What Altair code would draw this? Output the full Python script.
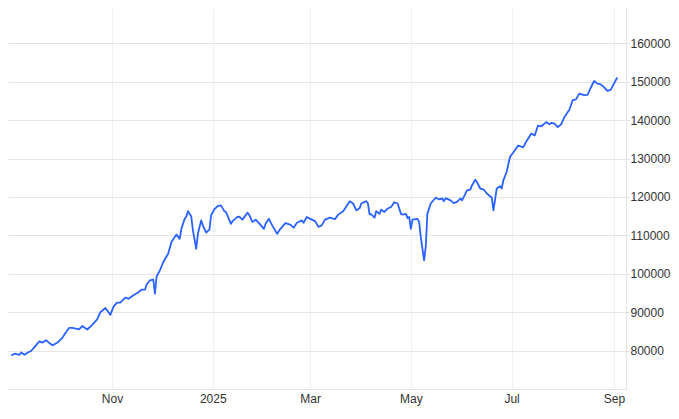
import altair as alt
import pandas as pd

dates = [
    "2024-09-01", "2024-09-03", "2024-09-06", "2024-09-07", "2024-09-09", "2024-09-11", "2024-09-13",
    "2024-09-15", "2024-09-18", "2024-09-20", "2024-09-22", "2024-09-24", "2024-09-26", "2024-09-29",
    "2024-10-02", "2024-10-04", "2024-10-06", "2024-10-08", "2024-10-12", "2024-10-14", "2024-10-17",
    "2024-10-20", "2024-10-23", "2024-10-25", "2024-10-28", "2024-10-29", "2024-10-31",
    "2024-11-02", "2024-11-04", "2024-11-06", "2024-11-09", "2024-11-11", "2024-11-14", "2024-11-17",
    "2024-11-19", "2024-11-21", "2024-11-22", "2024-11-24", "2024-11-26", "2024-11-27", "2024-11-28",
    "2024-11-30",
    "2024-12-02", "2024-12-04", "2024-12-05", "2024-12-07", "2024-12-09", "2024-12-10", "2024-12-12",
    "2024-12-13", "2024-12-15", "2024-12-16", "2024-12-17", "2024-12-19", "2024-12-20", "2024-12-22",
    "2024-12-23", "2024-12-25", "2024-12-26", "2024-12-28", "2024-12-30", "2024-12-31",
    "2025-01-02", "2025-01-04", "2025-01-06", "2025-01-08", "2025-01-09", "2025-01-12", "2025-01-13",
    "2025-01-16", "2025-01-17", "2025-01-19", "2025-01-22", "2025-01-23", "2025-01-25", "2025-01-27",
    "2025-01-29",
    "2025-02-01", "2025-02-02", "2025-02-04", "2025-02-06", "2025-02-09", "2025-02-11", "2025-02-14",
    "2025-02-17", "2025-02-19", "2025-02-21", "2025-02-24", "2025-02-25", "2025-02-27",
    "2025-03-01", "2025-03-04", "2025-03-06", "2025-03-08", "2025-03-10", "2025-03-13", "2025-03-16",
    "2025-03-18", "2025-03-21", "2025-03-23", "2025-03-25", "2025-03-27", "2025-03-29", "2025-03-31",
    "2025-04-01", "2025-04-04", "2025-04-05", "2025-04-06", "2025-04-07", "2025-04-09", "2025-04-10",
    "2025-04-12", "2025-04-13", "2025-04-15", "2025-04-17", "2025-04-19", "2025-04-21", "2025-04-23",
    "2025-04-25", "2025-04-26", "2025-04-28", "2025-04-29", "2025-04-30",
    "2025-05-01", "2025-05-02", "2025-05-05", "2025-05-06", "2025-05-07", "2025-05-09", "2025-05-10",
    "2025-05-11", "2025-05-13", "2025-05-16", "2025-05-18", "2025-05-20", "2025-05-21", "2025-05-22",
    "2025-05-25", "2025-05-27", "2025-05-29", "2025-05-31",
    "2025-06-01", "2025-06-04", "2025-06-06", "2025-06-07", "2025-06-09", "2025-06-10", "2025-06-12",
    "2025-06-14", "2025-06-16", "2025-06-18", "2025-06-19", "2025-06-20", "2025-06-22", "2025-06-24",
    "2025-06-25", "2025-06-26", "2025-06-28", "2025-06-30",
    "2025-07-02", "2025-07-05", "2025-07-08", "2025-07-10", "2025-07-13", "2025-07-15", "2025-07-17",
    "2025-07-19", "2025-07-22", "2025-07-24", "2025-07-25", "2025-07-27", "2025-07-29", "2025-07-31",
    "2025-08-02", "2025-08-05", "2025-08-07", "2025-08-09", "2025-08-11", "2025-08-14", "2025-08-16",
    "2025-08-18", "2025-08-20", "2025-08-22", "2025-08-24", "2025-08-26", "2025-08-28", "2025-08-30",
    "2025-09-01", "2025-09-03",
]

values = [
    # Sep 2024
    78700, 79200, 78900, 79500, 78900, 79500, 79900, 80900, 82400, 82100, 82700, 82000, 81400, 82100,
    # Oct
    83400, 84700, 85900, 85900, 85500, 86400, 85500, 86700, 88100, 90000, 91100, 90500, 89300,
    # Nov
    91500, 92500, 92500, 93800, 93500, 94400, 95200, 95900, 95900, 97200, 98300, 98500, 94800, 99300,
    100900,
    # Dec
    103000, 104500, 105200, 108300, 109600, 110200, 109100, 111700, 114300, 114900, 116300, 114900,
    111300, 106500, 110400, 113900, 112600, 110700, 111500, 115200,
    # Jan 2025
    116800, 117600, 117800, 116300, 116100, 113000, 113700, 114800, 114900, 114100, 115900, 115400,
    113500, 114100, 113200,
    # Feb
    111700, 113000, 114300, 112600, 110400, 111700, 113200, 112800, 112000, 113300, 113900, 113300,
    114800,
    # Mar
    114300, 113700, 112200, 112600, 114100, 114600, 114200, 115400, 116300, 117600, 118900, 118300,
    116500, 117100,
    # Apr
    118300, 118900, 118300, 115500, 115500, 114600, 116300, 115600, 116700, 116100, 117000, 117400,
    118600, 118300, 115600, 115400, 115600, 114500, 114800,
    # May
    111700, 114100, 114300, 113500, 109600, 103500, 107000, 115600, 118300, 119800, 119400, 119600,
    118900, 119700, 119100, 118400, 118700, 119600,
    # Jun
    119100, 121700, 121900, 123000, 124500, 123900, 122200, 122000, 120900, 120200, 119800, 116500,
    122200, 122800, 122200, 124300, 126500, 130400,
    # Jul
    131600, 133400, 132900, 134500, 136500, 136000, 138600, 138400, 139500, 138900, 139300, 139100,
    138200, 138900,
    # Aug
    140800, 142700, 145200, 145400, 146900, 146500, 146600, 148500, 150200, 149500, 149300, 148600,
    147600, 147900,
    # Sep
    149500, 151100,
]

assert len(dates) == len(values)

y_ticks = [80000, 90000, 100000, 110000, 120000, 130000, 140000, 150000, 160000]
x_ticks = [(2024, 11), (2025, 1), (2025, 3), (2025, 5), (2025, 7), (2025, 9)]

df = pd.DataFrame({"date": dates, "price": values})

FONT = "Liberation Sans, Arial, Helvetica, sans-serif"

x_axis = alt.Axis(
    values=[alt.DateTime(year=y, month=m, date=1, utc=True) for y, m in x_ticks],
    labelExpr="utcFormat(datum.value, '%m') == '01' ? utcFormat(datum.value, '%Y') : utcFormat(datum.value, '%b')",
    title=None,
    ticks=False,
    tickSize=0,
    labelPadding=4,
    labelFlush=False,
    labelAngle=0,
    gridColor="#edf1f5",
    domainColor="#e4e4e4",
)

y_axis = alt.Axis(
    orient="right",
    values=y_ticks,
    format="d",
    title=None,
    tickSize=3,
    tickColor="#dddddd",
    labelPadding=1,
    gridColor="#e6e6e6",
    domainColor="#e4e4e4",
)

chart = (
    alt.Chart(df)
    .mark_line(color="#2962ff", strokeWidth=1.8, strokeJoin="round")
    .encode(
        x=alt.X(
            "date:T",
            scale=alt.Scale(
                type="utc",
                domain=[
                    alt.DateTime(year=2024, month=8, date=30, utc=True),
                    alt.DateTime(year=2025, month=9, date=8, hours=7, utc=True),
                ],
            ),
            axis=x_axis,
        ),
        y=alt.Y(
            "price:Q",
            scale=alt.Scale(domain=[70000, 169200], nice=False, zero=False),
            axis=y_axis,
        ),
    )
    .properties(
        width=618,
        height=381,
        autosize=alt.AutoSizeParams(type="none"),
        padding={"left": 0, "top": 0, "right": 45, "bottom": 22},
        background="white",
    )
    .configure_view(strokeWidth=0)
    .configure_axis(labelFont=FONT, labelFontSize=12, labelColor="#333333")
)

chart.save("out.html", embed_options={"renderer": "svg", "actions": False})
